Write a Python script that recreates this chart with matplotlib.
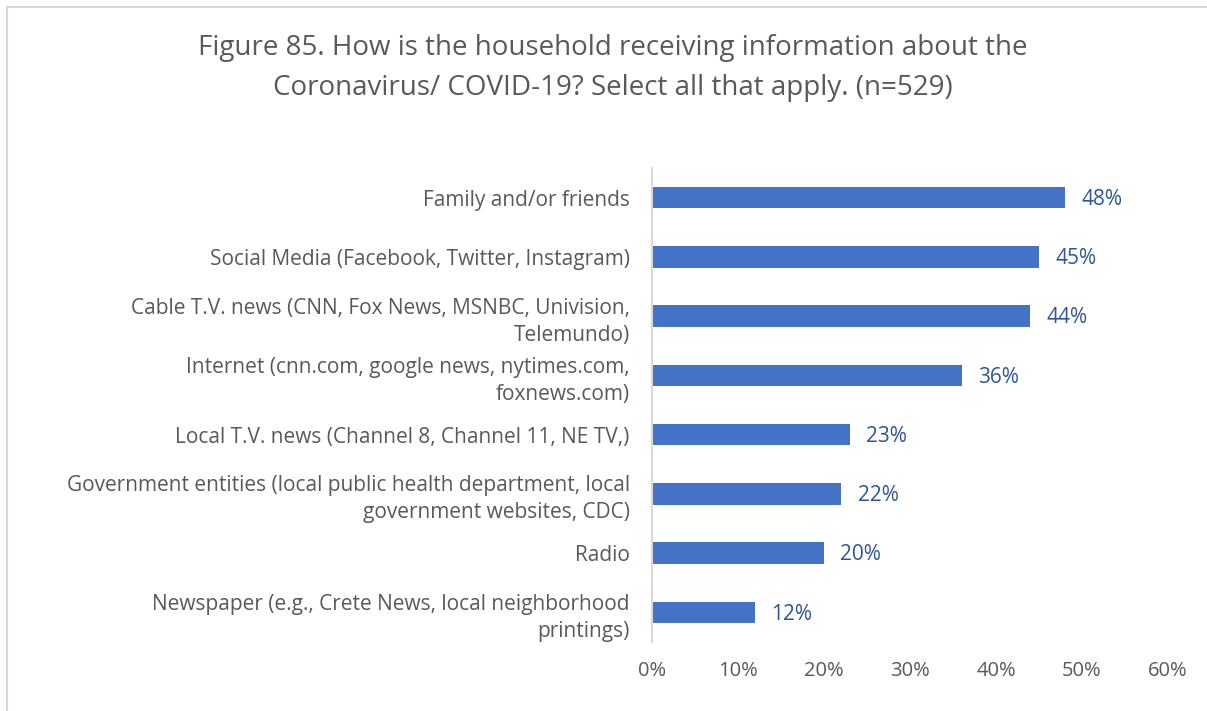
import matplotlib.pyplot as plt
from matplotlib.patches import Rectangle


CATEGORIES = [
    "Family and/or friends",
    "Social Media (Facebook, Twitter, Instagram)",
    "Cable T.V. news (CNN, Fox News, MSNBC, Univision,\nTelemundo)",
    "Internet (cnn.com, google news, nytimes.com,\nfoxnews.com)",
    "Local T.V. news (Channel 8, Channel 11, NE TV,)",
    "Government entities (local public health department, local\ngovernment websites, CDC)",
    "Radio",
    "Newspaper (e.g., Crete News, local neighborhood\nprintings)",
]
VALUES = [48, 45, 44, 36, 23, 22, 20, 12]
X_TICKS = [0, 10, 20, 30, 40, 50, 60]

TITLE = ("Figure 85. How is the household receiving information about the\n"
         "Coronavirus/ COVID-19? Select all that apply. (n=529)")

BAR_COLOR = "#4472C4"
LABEL_COLOR = "#2F5597"
TEXT_COLOR = "#595959"


def main():
    plt.rcParams["font.family"] = ["Open Sans", "DejaVu Sans"]

    fig = plt.figure(figsize=(12.07, 7.11), dpi=100)
    fig.patches.append(Rectangle((7 / 1207, -0.01), 1.02, 1 - 7 / 711 + 0.01,
                                 transform=fig.transFigure, fill=False,
                                 edgecolor="#D9D9D9", linewidth=1.5))

    ax = fig.add_axes([652 / 1207, 1 - 642 / 711, (1168 - 652) / 1207, (642 - 168) / 711])

    positions = list(range(len(CATEGORIES)))
    ax.barh(positions, VALUES, height=0.36, color=BAR_COLOR)
    ax.set_ylim(len(CATEGORIES) - 0.5, -0.5)
    ax.set_xlim(0, 60)

    for pos, val in zip(positions, VALUES):
        ax.text(val + 1.9, pos + 0.03, f"{val}%", va="center", ha="left",
                fontsize=15, color=LABEL_COLOR)

    ax.set_yticks(positions)
    ax.set_yticklabels(CATEGORIES, fontsize=15, color=TEXT_COLOR, linespacing=1.38)
    ax.set_xticks(X_TICKS)
    ax.set_xticklabels([f"{t}%" for t in X_TICKS], fontsize=14.5, color=TEXT_COLOR)
    ax.tick_params(axis="both", length=0)
    ax.tick_params(axis="x", pad=14)
    ax.tick_params(axis="y", pad=16)

    for side in ["top", "right", "bottom"]:
        ax.spines[side].set_visible(False)
    ax.spines["left"].set_color("#D9D9D9")
    ax.spines["left"].set_linewidth(1.5)

    fig.text(613 / 1207, 1 - 68 / 711, TITLE, ha="center", va="center",
             fontsize=20, color=TEXT_COLOR, linespacing=1.55)

    fig.savefig("out.png", dpi=100)


if __name__ == "__main__":
    main()
